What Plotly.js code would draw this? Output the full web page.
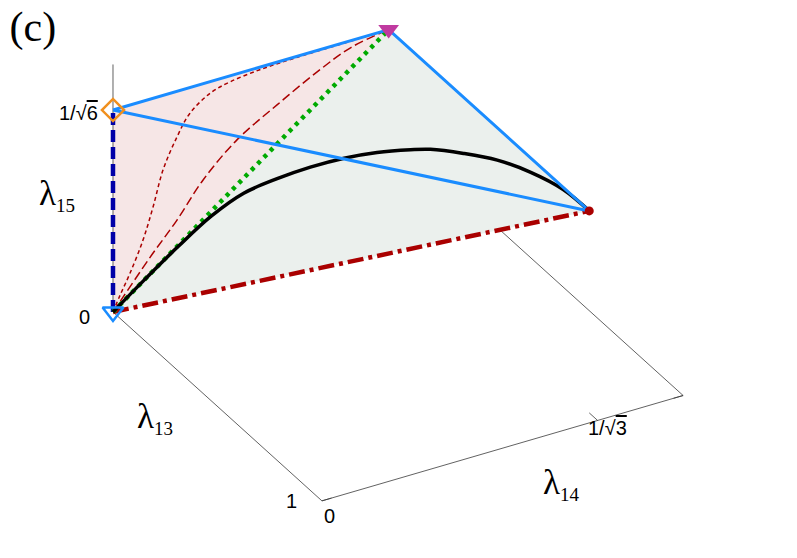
<!DOCTYPE html>
<html>
<head>
<meta charset="utf-8">
<script src="https://cdn.plot.ly/plotly-3.0.1.min.js"></script>
<style>
  html, body { margin: 0; padding: 0; background: #fff; }
  #plot { width: 797px; height: 558px; }
</style>
</head>
<body>
<div id="plot"></div>
<script>
// axis ranges
var lam13Range = [0, 1];
var lam14Range = [0, 0.756];
var lam15Range = [0, 0.5];

// corners of the tetrahedron: origin, diamond, magenta triangle, red dot
var vert13 = [0, 0, 0, 0.96];
var vert14 = [0, 0, 0.577, 0.577];
var vert15 = [0, 0.408, 0.408, 0.408];

// fine dashed red curve (lambda13 = 0)
var fine14 = [0, 0.015, 0.036, 0.063, 0.084, 0.105, 0.134, 0.16, 0.204, 0.246, 0.309, 0.386, 0.483, 0.577];
var fine15 = [0, 0.03, 0.069, 0.128, 0.189, 0.258, 0.316, 0.355, 0.385, 0.396, 0.403, 0.406, 0.407, 0.408];

// long dashed red curve (lambda13 = 0)
var long14 = [0, 0.021, 0.078, 0.134, 0.189, 0.26, 0.344, 0.428, 0.498, 0.577];
var long15 = [0, 0.024, 0.089, 0.148, 0.214, 0.275, 0.322, 0.365, 0.394, 0.408];

// black curve
var black13 = [0, 0.0005, 0.003, 0.012, 0.038, 0.086, 0.142, 0.205, 0.276, 0.354, 0.403, 0.498, 0.6, 0.714, 0.84, 0.96];
var black14 = [0, 0.066, 0.136, 0.201, 0.257, 0.306, 0.351, 0.394, 0.432, 0.468, 0.488, 0.516, 0.542, 0.561, 0.575, 0.577];
var black15 = [0, 0.047, 0.096, 0.142, 0.182, 0.216, 0.248, 0.278, 0.306, 0.331, 0.345, 0.365, 0.383, 0.397, 0.406, 0.408];

// view: orthographic camera (no WebGL here, so the 3D box is projected onto a 2D axis pair)
var azim = -29.6 * Math.PI / 180;
var elev = 30.9 * Math.PI / 180;
var aspect = [1, 0.982, 0.682];

function proj(a, b, c) {
  var X = (a - lam13Range[0]) / (lam13Range[1] - lam13Range[0]) * aspect[0];
  var Y = (b - lam14Range[0]) / (lam14Range[1] - lam14Range[0]) * aspect[1];
  var Z = (c - lam15Range[0]) / (lam15Range[1] - lam15Range[0]) * aspect[2];
  var u = -Math.sin(azim) * X + Math.cos(azim) * Y;
  var v = -Math.sin(elev) * Math.cos(azim) * X - Math.sin(elev) * Math.sin(azim) * Y + Math.cos(elev) * Z;
  return [u, v];
}
function path(a, b, c) {
  var xs = [], ys = [];
  for (var i = 0; i < a.length; i++) { var p = proj(a[i], b[i], c[i]); xs.push(p[0]); ys.push(p[1]); }
  return {x: xs, y: ys};
}
function pick(arr, idx) { return idx.map(function (i) { return arr[i]; }); }
function zeros(n) { var a = []; for (var i = 0; i < n; i++) a.push(0); return a; }

function lineTrace(p, color, width, dash, shape) {
  return {type: "scatter", mode: "lines", x: p.x, y: p.y,
    line: {color: color, width: width, dash: dash || "solid", shape: shape || "linear", smoothing: 1},
    hoverinfo: "skip", showlegend: false};
}
function fillTrace(idx, color) {
  var p = path(pick(vert13, idx), pick(vert14, idx), pick(vert15, idx));
  return {type: "scatter", mode: "lines", x: p.x, y: p.y, fill: "toself", fillcolor: color,
    line: {width: 0, color: color}, hoverinfo: "skip", showlegend: false};
}
function markTrace(k, marker) {
  var p = proj(vert13[k], vert14[k], vert15[k]);
  return {type: "scatter", mode: "markers", x: [p[0]], y: [p[1]], marker: marker,
    hoverinfo: "skip", showlegend: false, cliponaxis: false};
}

var axCol = "#3a3a3a";
var r0 = lam13Range, r1 = lam14Range, r2 = lam15Range;

var data = [
  // floor box edges (drawn first so the faces hide the part behind them)
  lineTrace(path([r0[0], r0[1], r0[1], r0[0]], [r1[0], r1[0], r1[1], r1[1]], [0, 0, 0, 0]), axCol, 0.8),
  // tick marks
  lineTrace(path([1, 1], [0, 0.02], [0, 0]), axCol, 0.8),
  lineTrace(path([1, 0.96], [0.577, 0.577], [0, 0]), axCol, 0.8),
  lineTrace(path([1, 1], [r1[1], r1[1] - 0.02], [0, 0]), axCol, 0.8),

  // faces
  fillTrace([0, 1, 2, 0], "rgb(246,230,230)"),
  fillTrace([0, 2, 3, 0], "rgb(235,240,237)"),

  // vertical axis
  lineTrace(path([0, 0], [0, 0], [r2[0], r2[1]]), axCol, 0.8),

  // edges and curves
  lineTrace(path(pick(vert13, [0, 1]), pick(vert14, [0, 1]), pick(vert15, [0, 1])), "#0000a8", 4.5, "12px,5px"),
  lineTrace(path(pick(vert13, [0, 3]), pick(vert14, [0, 3]), pick(vert15, [0, 3])), "#aa0000", 4.5, "16px,5px,4px,5px"),
  lineTrace(path(zeros(fine14.length), fine14, fine15), "#aa0000", 1.5, "4px,3px", "spline"),
  lineTrace(path(zeros(long14.length), long14, long15), "#aa0000", 1.5, "9px,4px", "spline"),
  lineTrace(path(pick(vert13, [0, 2]), pick(vert14, [0, 2]), pick(vert15, [0, 2])), "#00aa00", 4.5, "4px,5px"),
  lineTrace(path(black13, black14, black15), "#000000", 3.5, "solid", "spline"),
  lineTrace(path(pick(vert13, [1, 2, 3, 1]), pick(vert14, [1, 2, 3, 1]), pick(vert15, [1, 2, 3, 1])), "#1a8cff", 3),

  // markers
  markTrace(0, {symbol: "triangle-down-open", size: 18, line: {width: 2.5, color: "#1a8cff"}, color: "#1a8cff"}),
  markTrace(2, {symbol: "triangle-down", size: 18, color: "#c03aa0", line: {width: 0}}),
  markTrace(1, {symbol: "diamond-open", size: 17, line: {width: 2.5, color: "#f0901e"}, color: "#f0901e"}),
  markTrace(3, {symbol: "circle", size: 9, color: "#aa0000", line: {width: 0}})
];

var tickFont = {family: "Liberation Sans, Arial, sans-serif", size: 20, color: "#000"};
var labFont = {family: "Liberation Serif, Times New Roman, serif", size: 35, color: "#000"};
function note(a, b, c, text, dx, dy, font) {
  var p = proj(a, b, c);
  return {x: p[0], y: p[1], xref: "x", yref: "y", text: text, showarrow: false,
          xshift: dx, yshift: dy, xanchor: "center", yanchor: "middle", font: font};
}
function lam(n) { return "λ<sub><span style=\"font-size:19px\">" + n + "</span></sub>"; }
function root(n) { return "1/√<span style=\"text-decoration:overline\">" + n + "</span>"; }

var layout = {
  width: 797, height: 558,
  margin: {l: 0, r: 0, t: 0, b: 0},
  paper_bgcolor: "#fff",
  plot_bgcolor: "#fff",
  showlegend: false,
  hovermode: false,
  title: {text: "(c)", x: 0.012, xanchor: "left", xref: "paper", y: 0.952, yanchor: "middle",
          font: {family: "Liberation Serif, Times New Roman, serif", size: 42, color: "#000"}},
  xaxis: {visible: false, range: [-0.2671, 1.617], fixedrange: true},
  yaxis: {visible: false, range: [-0.5816, 0.7376], fixedrange: true},
  annotations: [
    note(0, 0, 0.408, root(6), -34, -3, tickFont),
    note(0, 0, 0, "0", -28, -5, tickFont),
    note(1, 0, 0, "1", -30, 0, tickFont),
    note(1, 0, 0, "0", 8, -15, tickFont),
    note(1, 0.577, 0, root(3), 10, -8, tickFont),
    note(0.5, 0, 0, lam(13), -62, -12, labFont),
    note(1, 0.385, 0, lam(14), 55, -37, labFont),
    note(0, 0, 0.25, lam(15), -56, -7, labFont)
  ]
};

Plotly.newPlot("plot", data, layout, {displayModeBar: false, staticPlot: true});
</script>
</body>
</html>
